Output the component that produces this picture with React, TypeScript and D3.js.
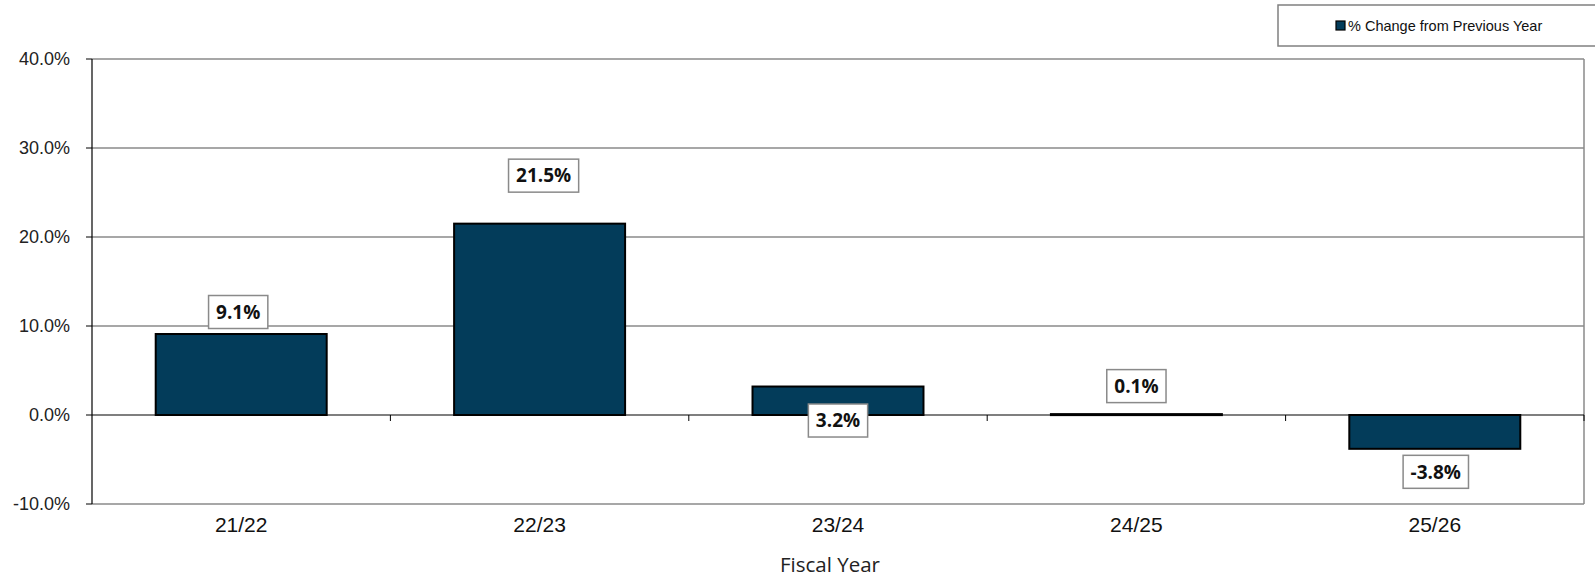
import React from "react";
import * as d3 from "d3";

const categories = ["21/22", "22/23", "23/24", "24/25", "25/26"];
const values = [9.1, 21.5, 3.2, 0.1, -3.8];
const yTicks = [-10, 0, 10, 20, 30, 40];
const seriesName = "% Change from Previous Year";
const xTitle = "Fiscal Year";
// manual label placement (pixel offsets from bar end), as in the source chart
const labelDx = [-3, 4, 0, 0, 1];
const labelDy = [-22, -48, 34, -28, 23];

const W = 1595;
const H = 579;
const plotL = 92;
const plotR = 1584;
const plotT = 59;
const plotB = 504;
const barColor = "#033C5A";
const gridColor = "#8a8a8a";

function measure(text: string, font: string): number {
  const c = document.createElement("canvas").getContext("2d");
  if (!c) return text.length * 11;
  c.font = font;
  return c.measureText(text).width;
}

export default function App() {
  const x = d3.scaleBand<string>().domain(categories).range([plotL, plotR]).paddingInner(0).paddingOuter(0);
  const y = d3.scaleLinear().domain([-10, 40]).range([plotB, plotT]);
  const step = x.step();
  const barW = step * 0.573;
  const fmt = (v: number) => d3.format(".1f")(v).replace("\u2212", "-") + "%";
  const labelFont = "bold 19px 'Open Sans'";

  return (
    <svg width={W} height={H} style={{ position: "absolute", left: 0, top: 0, background: "#fff" }}>
      {/* gridlines */}
      {yTicks.filter((t) => t !== 0).map((t) => (
        <line key={"g" + t} x1={plotL} x2={plotR} y1={y(t)} y2={y(t)} stroke={gridColor} strokeWidth={1.5} />
      ))}
      {/* right border */}
      <line x1={plotR} x2={plotR} y1={plotT} y2={plotB} stroke={gridColor} strokeWidth={1.5} />
      {/* bars */}
      {values.map((v, i) => {
        const cx = (x(categories[i]) as number) + step / 2;
        const y0 = y(0);
        const y1 = y(v);
        return (
          <rect key={"b" + i} x={cx - barW / 2} y={Math.min(y0, y1)} width={barW} height={Math.max(Math.abs(y1 - y0), 1)}
            fill={barColor} stroke="#000" strokeWidth={2} />
        );
      })}
      {/* zero line */}
      <line x1={plotL} x2={plotR} y1={y(0)} y2={y(0)} stroke="#000" strokeWidth={1.2} />
      {/* category ticks */}
      {categories.map((c, i) => (
        <line key={"ct" + i} x1={plotL + step * (i + 1)} x2={plotL + step * (i + 1)} y1={y(0)} y2={y(0) + 6} stroke="#000" strokeWidth={1} />
      ))}
      {/* y axis */}
      <line x1={plotL} x2={plotL} y1={plotT} y2={plotB} stroke="#000" strokeWidth={1.2} />
      {yTicks.map((t) => (
        <g key={"yt" + t}>
          <line x1={plotL - 6} x2={plotL} y1={y(t)} y2={y(t)} stroke="#000" strokeWidth={1} />
          <text x={70} y={y(t)} dy="0.35em" textAnchor="end" fontFamily="'Liberation Sans', Arial, sans-serif" fontSize={18} fill="#222">
            {fmt(t)}
          </text>
        </g>
      ))}
      {/* category labels */}
      {categories.map((c) => (
        <text key={"cl" + c} x={(x(c) as number) + step / 2} y={532} textAnchor="middle" fontFamily="'Liberation Sans', Arial, sans-serif" fontSize={21} fill="#111">
          {c}
        </text>
      ))}
      <text x={830} y={572} textAnchor="middle" fontFamily="'Open Sans', sans-serif" fontSize={20.5} fill="#222">
        {xTitle}
      </text>
      {/* data labels */}
      {values.map((v, i) => {
        const cx = (x(categories[i]) as number) + step / 2 + labelDx[i];
        const cy = y(v) + labelDy[i];
        const t = fmt(v);
        const tw = measure(t, labelFont);
        const bw = tw + 15;
        const bh = 33;
        return (
          <g key={"l" + i}>
            <rect x={cx - bw / 2} y={cy - bh / 2} width={bw} height={bh} fill="#fff" stroke="#8a8a8a" strokeWidth={1.5} />
            <text x={cx} y={cy} dy="0.36em" textAnchor="middle" fontFamily="'Open Sans', sans-serif" fontWeight="bold" fontSize={19} fill="#111">
              {t}
            </text>
          </g>
        );
      })}
      {/* legend */}
      <rect x={1278} y={5} width={340} height={41} fill="#fff" stroke="#808080" strokeWidth={1.5} />
      <rect x={1336} y={21} width={9} height={9} fill={barColor} stroke="#000" strokeWidth={1.2} />
      <text x={1348} y={30.5} fontFamily="'Liberation Sans', Arial, sans-serif" fontSize={14.5} fill="#111">
        {seriesName}
      </text>
    </svg>
  );
}
